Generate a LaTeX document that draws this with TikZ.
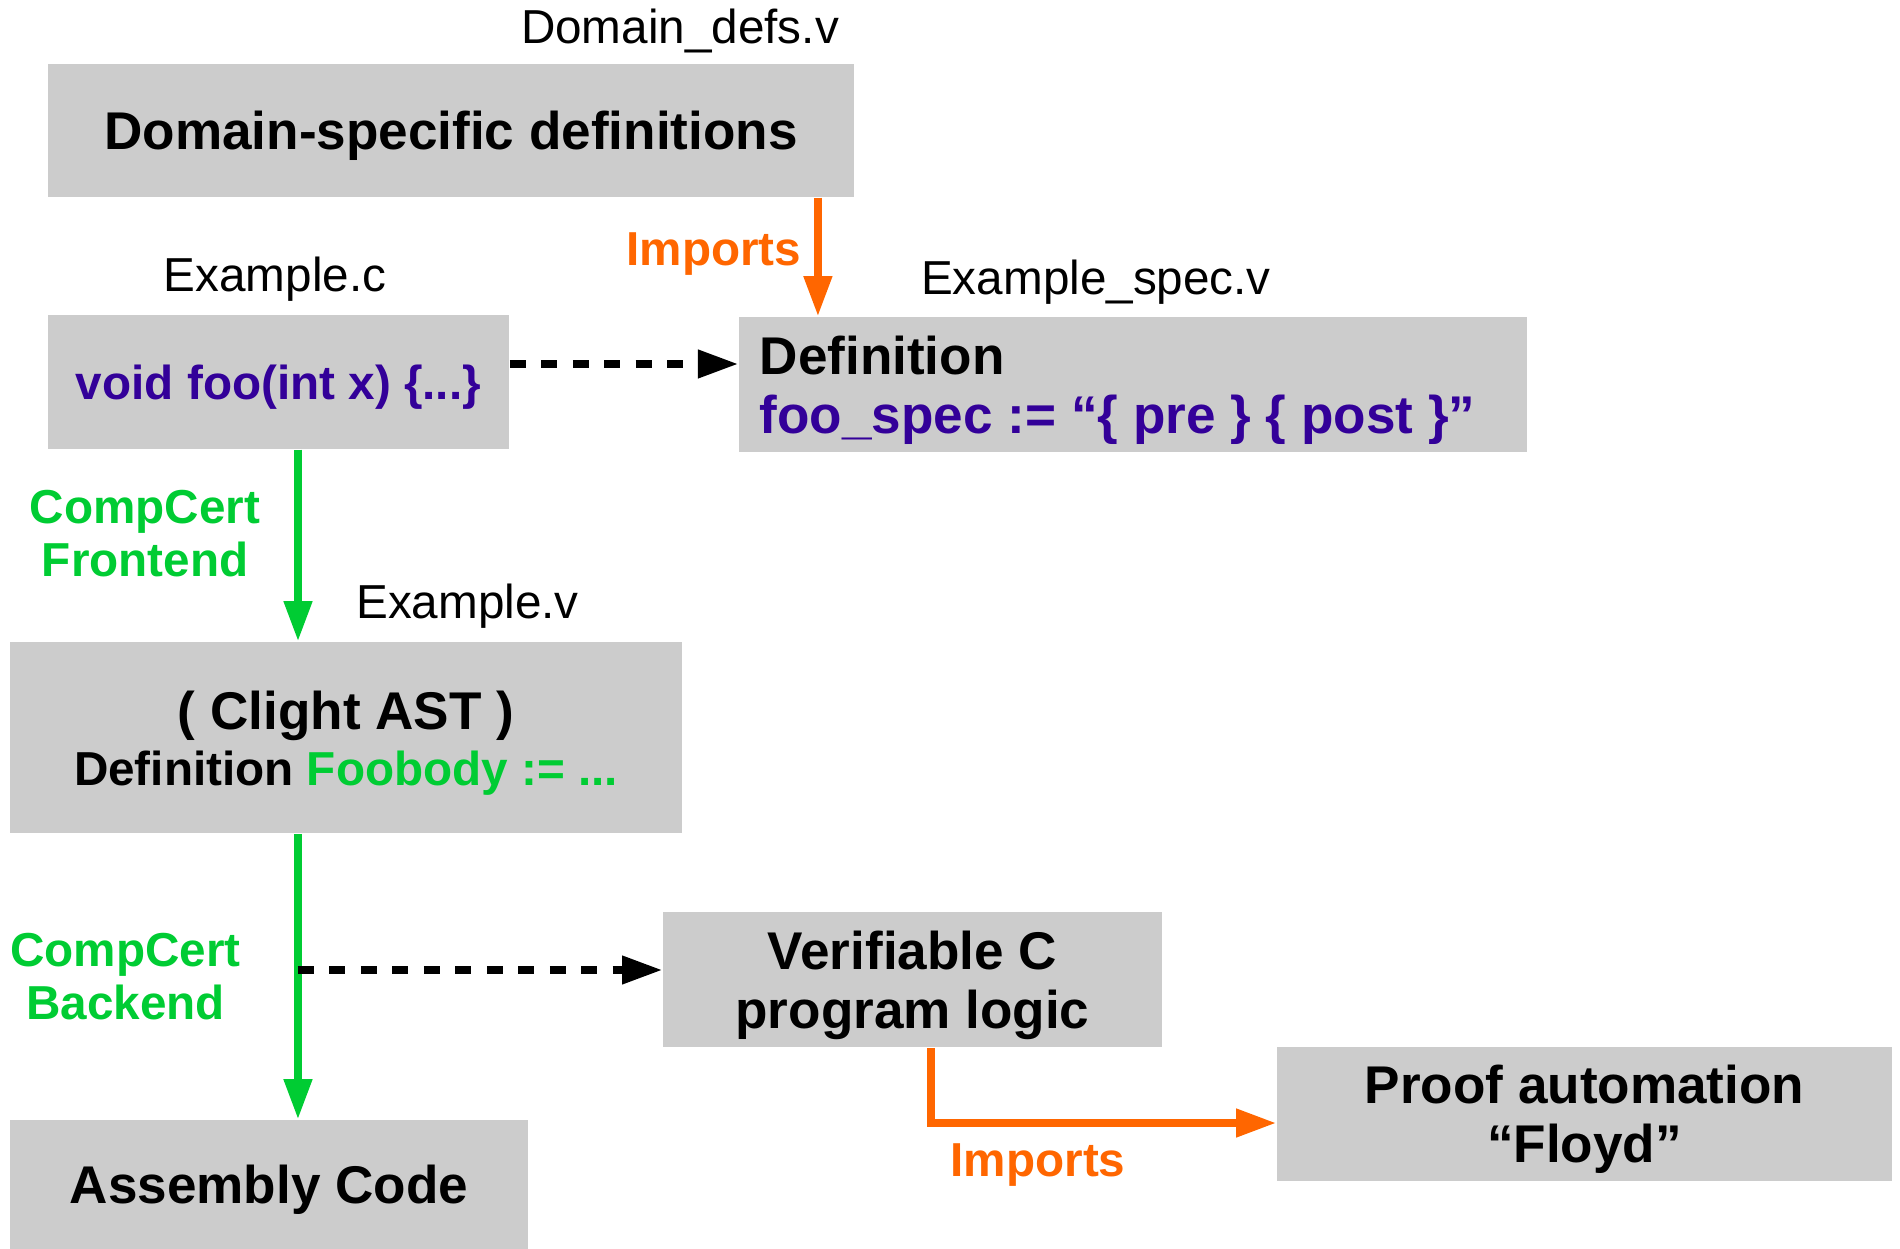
\documentclass[tikz,border=0pt]{standalone}
\usepackage{fontspec}
\setmainfont{Liberation Sans}
\usepackage{xcolor}
\usepackage{tikz}
\usetikzlibrary{arrows.meta, positioning}

\definecolor{boxgray}{HTML}{CCCCCC}
\definecolor{specpurple}{HTML}{330099}
\definecolor{ccgreen}{HTML}{00CC33}
\definecolor{impbrown}{HTML}{FF6600}

\begin{document}
\begin{tikzpicture}[
  x = 0.01cm, y = -0.01cm,
  srcbox/.style   = {rectangle, fill=boxgray, inner sep=0pt, align=flush center,
                     font=\fontsize{15.1pt}{16.8pt}\selectfont\bfseries,
                     execute at begin node={\rule{0pt}{0.94em}}},
  fname/.style    = {inner sep=0pt, anchor=base,
                     font=\fontsize{13.55pt}{15.1pt}\selectfont},
  arrowlbl/.style = {inner sep=0pt, align=center,
                     font=\fontsize{13.55pt}{15.1pt}\selectfont\bfseries},
  tip/.style      = {-{Triangle[length=11.4pt, width=7.7pt]}},
  ccarrow/.style  = {draw=ccgreen, line width=2.1pt, tip},
  imparrow/.style = {draw=impbrown, line width=2.1pt, tip},
  dasharrow/.style= {draw=black, line width=2pt,
                     dash pattern=on 4.55pt off 4.4pt, tip}
]
\useasboundingbox (0,0) rectangle (1900,1249);

% --- boxes ---
\node[srcbox, minimum width=8.06cm, minimum height=1.33cm] (dom) at (451,130.5)
  {Domain-specific definitions};
\node[srcbox, minimum width=4.61cm, minimum height=1.34cm, text=specpurple,
      font=\fontsize{13.55pt}{15.1pt}\selectfont\bfseries] (exc) at (278.5,382)
  {void foo(int x) \{...\}};
\node[srcbox, minimum width=7.88cm, minimum height=1.35cm, text width=7.46cm,
      inner xsep=0.21cm, align=flush left] (spec) at (1133,384.5)
  {Definition\\\textcolor{specpurple}{foo\_spec := “\{ pre \} \{ post \}”}};
\node[srcbox, minimum height=1.91cm, text width=6.72cm,
      font=\fontsize{15.1pt}{15.65pt}\selectfont\bfseries] (clight) at (346,737.5)
  {( Clight AST )\\{\fontsize{13.55pt}{15.65pt}\selectfont
   Definition \textcolor{ccgreen}{Foobody := ...}}};
\node[srcbox, minimum height=1.35cm, text width=4.99cm] (vc) at (912.5,979.5)
  {Verifiable C\\program logic};
\node[srcbox, minimum height=1.34cm, text width=6.15cm] (floyd) at (1584.5,1114)
  {Proof automation\\“Floyd”};
\node[srcbox, minimum width=5.18cm, minimum height=1.29cm] (asm) at (269,1184.5)
  {Assembly Code};

% --- file names ---
\node[fname] (domfile)  at (680,44)    {Domain\_defs.v};
\node[fname] (excfile)  at (275,292)   {Example.c};
\node[fname] (specfile) at (1096,295)  {Example\_spec.v};
\node[fname] (clfile)   at (467.5,618) {Example.v};

% --- Arrows ---
\draw[imparrow] ([xshift=-0.37cm]dom.south east)
  -- node[arrowlbl, text=impbrown, pos=0.575, anchor=base east, xshift=-0.13cm] (imptop) {Imports}
  ([xshift=-0.37cm]dom.south east |- spec.north);
\draw[dasharrow] ([yshift=0.18cm]exc.east) -- ([yshift=0.18cm]exc.east -| spec.west);

\draw[ccarrow] ([xshift=0.195cm]exc.south)
  -- node[arrowlbl, text=ccgreen, pos=0.4375, anchor=east, xshift=-0.34cm] (front) {CompCert\\Frontend}
  ([xshift=0.195cm]exc.south |- clight.north);
\draw[ccarrow] ([xshift=-0.48cm]clight.south) coordinate (be)
  -- node[arrowlbl, text=ccgreen, pos=0.499, anchor=east, xshift=-0.535cm] (back) {CompCert\\Backend}
  ([xshift=-0.48cm]clight.south |- asm.north);

% backend → Verifiable C
\draw[dasharrow] ([yshift=0.095cm]vc.west -| be) -- ([yshift=0.095cm]vc.west);

% Verifiable C → Floyd
\draw[imparrow] ([xshift=0.185cm]vc.south)
  |- node[arrowlbl, text=impbrown, pos=0.655, anchor=base, yshift=-0.53cm] (impbot) {Imports}
  ([yshift=-0.09cm]floyd.west);

\end{tikzpicture}
\end{document}
